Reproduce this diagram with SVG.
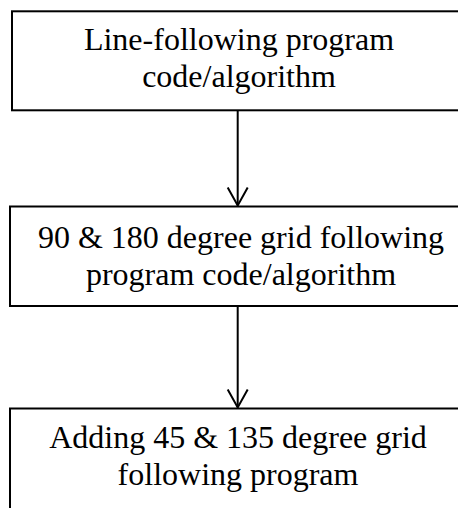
<svg xmlns="http://www.w3.org/2000/svg" width="458" height="508" viewBox="0 0 458 508">
<style>
.box{fill:#fff;stroke:#000;stroke-width:2}
.t{font-family:"Liberation Serif","Times New Roman",serif;font-size:32px;fill:#000;text-anchor:middle}
.c{stroke:#000;stroke-width:2;fill:none}
</style>
<defs>
<marker id="arr" markerWidth="24" markerHeight="24" refX="20" refY="12" orient="auto" markerUnits="userSpaceOnUse" viewBox="0 0 24 24">
<path d="M2,2 L20,12 L2,22" fill="none" stroke="#000" stroke-width="2"/>
</marker>
</defs>
<rect width="458" height="508" fill="#fff"/>
<g id="connectors">
<path class="c" d="M237.7,111 V205.5" marker-end="url(#arr)"/>
<path class="c" d="M237.7,307 V407.5" marker-end="url(#arr)"/>
</g>
<g id="node1">
<rect class="box" x="12" y="11.3" width="460" height="99"/>
<text class="t" x="239" y="50">Line-following program</text>
<text class="t" x="239" y="87">code/algorithm</text>
</g>
<g id="node2">
<rect class="box" x="10" y="206.5" width="460" height="99.5"/>
<text class="t" x="241" y="248">90 &amp; 180 degree grid following</text>
<text class="t" x="241" y="285">program code/algorithm</text>
</g>
<g id="node3">
<rect class="box" x="10" y="408.5" width="460" height="110"/>
<text class="t" x="238" y="448">Adding 45 &amp; 135 degree grid</text>
<text class="t" x="238" y="485">following program</text>
</g>
</svg>
